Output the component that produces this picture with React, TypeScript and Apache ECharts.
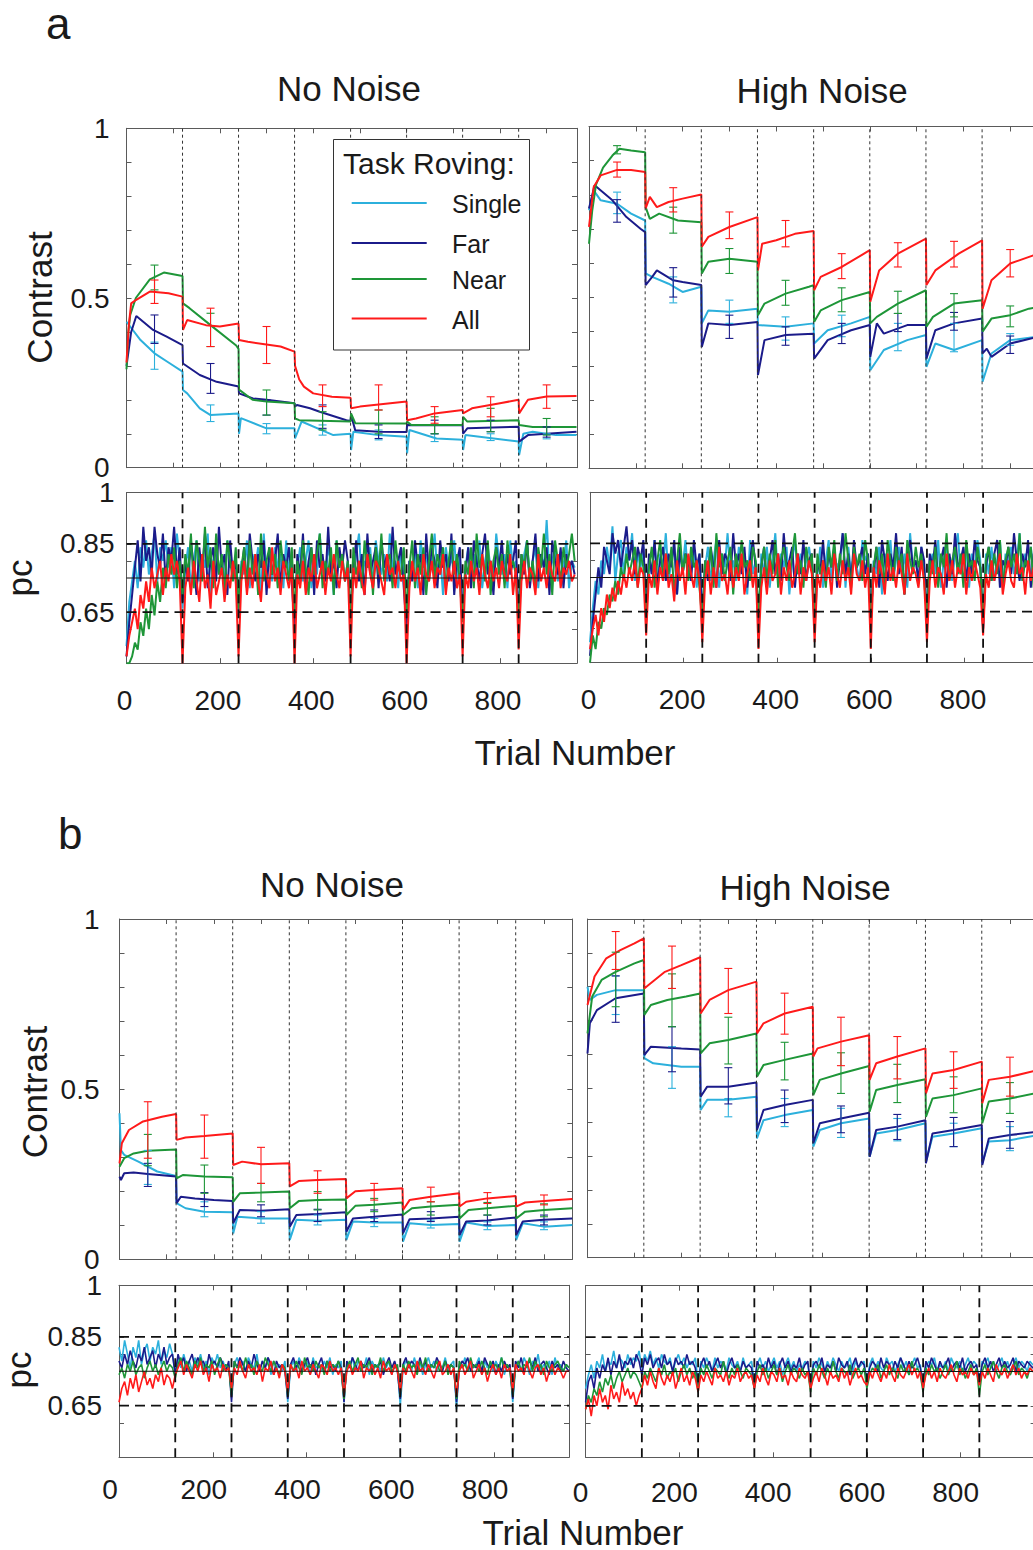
import React, { useEffect, useRef } from 'react';
import * as echarts from 'echarts';

// ---------------- categories, ticks ----------------
const SERIES_NAMES = ['Single', 'Far', 'Near', 'All'];
const BLOCK_EDGES = [120, 240, 360, 480, 600, 720, 840];
const CONTRAST_TICKS = [0, 0.1, 0.2, 0.3, 0.4, 0.5, 0.6, 0.7, 0.8, 0.9, 1];
const CONTRAST_TICK_LABELS = [0, 0.5, 1];
const PC_TICKS = [0.6, 0.65, 0.8, 0.85, 1];
const PC_TICK_LABELS = [0.65, 0.85, 1];
const PC_CRITERIA = [0.65, 0.85];
const PC_TARGET = 0.75;
const TRIAL_TICKS_CONTRAST = [100, 200, 300, 400, 500, 600, 700, 800, 900];
const TRIAL_TICKS_PC = [200, 400, 600, 800];
const TRIAL_TICK_LABELS = [0, 200, 400, 600, 800];
const PC_TRIAL_STEP = 6;

// ---------------- panel a, No Noise, contrast ----------------
const aNoNoiseSingle = [[0,0.43],[30,0.376],[60,0.337],[90,0.31],[120,0.283],[121,0.229],[130,0.219],[157,0.175],[180,0.155],[240,0.16],[241,0.10],[245,0.146],[300,0.116],[360,0.116],[361,0.086],[375,0.136],[443,0.096],[480,0.10],[481,0.052],[486,0.106],[540,0.096],[600,0.091],[601,0.042],[606,0.111],[664,0.086],[720,0.082],[721,0.052],[726,0.096],[840,0.077],[841,0.037],[850,0.1],[870,0.106],[920,0.096],[964,0.096]];
const aNoNoiseFar = [[0,0.3],[10,0.4],[21,0.447],[57,0.406],[86,0.386],[120,0.361],[121,0.307],[157,0.273],[193,0.253],[240,0.239],[241,0.219],[271,0.204],[300,0.2],[360,0.19],[361,0.18],[365,0.185],[393,0.175],[414,0.165],[471,0.14],[480,0.138],[481,0.155],[490,0.11],[540,0.106],[600,0.105],[601,0.126],[650,0.125],[720,0.125],[721,0.1],[730,0.116],[840,0.121],[841,0.077],[860,0.096],[964,0.106]];
const aNoNoiseNear = [[0,0.29],[4,0.4],[8,0.45],[20,0.5],[50,0.555],[80,0.575],[120,0.565],[121,0.484],[135,0.47],[180,0.42],[235,0.36],[240,0.35],[241,0.23],[270,0.2],[300,0.195],[360,0.19],[361,0.145],[370,0.14],[480,0.136],[481,0.16],[490,0.131],[600,0.13],[601,0.136],[610,0.126],[720,0.126],[721,0.15],[730,0.136],[840,0.14],[841,0.126],[870,0.12],[964,0.12]];
const aNoNoiseAll = [[0,0.31],[5,0.42],[10,0.484],[20,0.494],[50,0.519],[90,0.514],[120,0.504],[121,0.406],[130,0.435],[170,0.42],[200,0.416],[240,0.425],[241,0.376],[260,0.371],[330,0.357],[360,0.342],[361,0.3],[370,0.26],[380,0.239],[400,0.219],[440,0.209],[480,0.206],[481,0.175],[500,0.18],[600,0.195],[601,0.14],[620,0.145],[660,0.16],[720,0.17],[721,0.16],[740,0.175],[800,0.19],[840,0.2],[841,0.16],[860,0.2],[900,0.21],[964,0.211]];
const aNoNoiseSingleErr = [[60,0.29,0.37],[180,0.136,0.185],[300,0.10,0.13],[420,0.096,0.126],[540,0.082,0.111],[660,0.077,0.1],[780,0.08,0.1],[900,0.085,0.1]];
const aNoNoiseFarErr = [[60,0.366,0.45],[180,0.219,0.307],[300,0.155,0.2],[420,0.116,0.185],[540,0.086,0.126],[660,0.1,0.14],[780,0.106,0.14],[900,0.09,0.12]];
const aNoNoiseNearErr = [[60,0.524,0.597],[180,0.357,0.455],[300,0.155,0.229],[420,0.111,0.165],[540,0.1,0.17],[660,0.1,0.15],[780,0.106,0.175],[900,0.096,0.145]];
const aNoNoiseAllErr = [[60,0.484,0.553],[180,0.357,0.47],[300,0.307,0.416],[420,0.18,0.244],[540,0.17,0.244],[660,0.131,0.18],[780,0.15,0.209],[900,0.175,0.244]];

// ---------------- panel a, High Noise, contrast ----------------
const aHighNoiseSingle = [[0,0.755],[10,0.813],[25,0.784],[60,0.774],[90,0.745],[120,0.725],[121,0.57],[135,0.56],[170,0.54],[200,0.516],[240,0.531],[241,0.424],[255,0.462],[300,0.458],[360,0.467],[361,0.419],[420,0.414],[480,0.424],[481,0.365],[510,0.404],[560,0.424],[600,0.443],[601,0.287],[630,0.346],[680,0.375],[720,0.39],[721,0.297],[740,0.365],[780,0.346],[840,0.375],[841,0.253],[860,0.336],[900,0.375],[960,0.385]];
const aHighNoiseFar = [[0,0.76],[12,0.828],[50,0.784],[80,0.735],[110,0.701],[120,0.691],[121,0.536],[135,0.56],[145,0.579],[180,0.55],[200,0.545],[240,0.536],[241,0.355],[255,0.424],[300,0.419],[360,0.428],[361,0.273],[375,0.375],[420,0.39],[480,0.394],[481,0.321],[510,0.375],[560,0.404],[600,0.419],[601,0.326],[615,0.424],[630,0.394],[680,0.419],[720,0.419],[721,0.321],[740,0.404],[780,0.424],[840,0.438],[841,0.336],[850,0.35],[860,0.326],[900,0.365],[960,0.385]];
const aHighNoiseNear = [[0,0.657],[7,0.755],[15,0.83],[30,0.88],[50,0.915],[65,0.935],[90,0.93],[120,0.925],[121,0.764],[130,0.73],[150,0.745],[190,0.725],[240,0.72],[241,0.57],[255,0.604],[300,0.613],[360,0.604],[361,0.448],[375,0.482],[420,0.511],[470,0.531],[480,0.536],[481,0.428],[495,0.462],[540,0.492],[600,0.516],[601,0.424],[615,0.443],[660,0.482],[720,0.521],[721,0.414],[735,0.443],[780,0.482],[840,0.492],[841,0.4],[860,0.438],[900,0.448],[940,0.467],[960,0.472]];
const aHighNoiseAll = [[0,0.706],[10,0.823],[25,0.857],[60,0.873],[90,0.873],[120,0.867],[121,0.76],[130,0.794],[145,0.764],[170,0.779],[200,0.789],[240,0.801],[241,0.648],[255,0.677],[300,0.706],[360,0.735],[361,0.579],[370,0.657],[400,0.667],[440,0.686],[480,0.694],[481,0.521],[495,0.56],[540,0.589],[600,0.638],[601,0.487],[620,0.579],[660,0.628],[720,0.672],[721,0.536],[740,0.579],[790,0.628],[840,0.667],[841,0.467],[860,0.55],[900,0.599],[960,0.628]];
const aHighNoiseSingleErr = [[60,0.745,0.808],[180,0.484,0.56],[300,0.424,0.492],[420,0.375,0.443],[540,0.385,0.448],[660,0.344,0.424],[780,0.341,0.424],[900,0.36,0.394]];
const aHighNoiseFarErr = [[60,0.72,0.786],[180,0.501,0.587],[300,0.38,0.448],[420,0.36,0.414],[540,0.365,0.424],[660,0.4,0.453],[780,0.404,0.456],[900,0.336,0.387]];
const aHighNoiseNearErr = [[60,0.92,0.944],[180,0.688,0.764],[300,0.57,0.643],[420,0.477,0.55],[540,0.458,0.528],[660,0.453,0.518],[780,0.443,0.511],[900,0.414,0.475]];
const aHighNoiseAllErr = [[60,0.852,0.896],[180,0.75,0.821],[300,0.672,0.75],[420,0.648,0.725],[540,0.555,0.628],[660,0.589,0.66],[780,0.589,0.664],[900,0.56,0.64]];

// ---------------- panel b, No Noise, contrast ----------------
const bNoNoiseSingle = [[0,0.429],[3,0.321],[10,0.307],[40,0.287],[80,0.258],[120,0.245],[121,0.165],[140,0.15],[180,0.14],[240,0.138],[241,0.076],[250,0.125],[300,0.12],[360,0.12],[361,0.057],[375,0.116],[420,0.113],[480,0.116],[481,0.057],[495,0.111],[540,0.108],[600,0.108],[601,0.052],[615,0.106],[660,0.101],[720,0.104],[721,0.052],[735,0.108],[780,0.098],[840,0.101],[841,0.057],[855,0.106],[900,0.096],[960,0.101]];
const bNoNoiseFar = [[0,0.243],[3,0.233],[10,0.253],[30,0.255],[60,0.251],[120,0.243],[121,0.165],[130,0.184],[160,0.179],[200,0.174],[240,0.171],[241,0.106],[255,0.145],[300,0.143],[360,0.147],[361,0.096],[375,0.13],[420,0.133],[480,0.138],[481,0.081],[495,0.12],[540,0.125],[600,0.132],[601,0.076],[615,0.118],[660,0.12],[720,0.125],[721,0.071],[735,0.111],[780,0.114],[840,0.123],[841,0.071],[855,0.111],[900,0.116],[960,0.12]];
const bNoNoiseNear = [[0,0.272],[10,0.297],[30,0.311],[60,0.319],[120,0.323],[121,0.238],[135,0.248],[180,0.243],[240,0.241],[241,0.169],[255,0.194],[300,0.196],[360,0.199],[361,0.15],[380,0.171],[420,0.174],[480,0.176],[481,0.13],[500,0.157],[540,0.16],[600,0.167],[601,0.13],[620,0.15],[660,0.155],[720,0.16],[721,0.12],[740,0.145],[780,0.15],[840,0.157],[841,0.12],[860,0.14],[900,0.145],[960,0.15]];
const bNoNoiseAll = [[0,0.282],[5,0.341],[20,0.38],[50,0.405],[90,0.419],[120,0.427],[121,0.351],[140,0.358],[180,0.362],[240,0.37],[241,0.277],[260,0.287],[300,0.279],[360,0.282],[361,0.214],[380,0.23],[420,0.233],[480,0.236],[481,0.179],[500,0.2],[540,0.204],[600,0.209],[601,0.145],[615,0.174],[660,0.184],[720,0.194],[721,0.155],[735,0.169],[780,0.179],[840,0.186],[841,0.155],[860,0.167],[900,0.171],[960,0.177]];
const bNoNoiseSingleErr = [[60,0.22,0.32],[180,0.125,0.169],[300,0.106,0.14],[420,0.101,0.13],[540,0.096,0.12],[660,0.092,0.115],[780,0.087,0.11],[900,0.087,0.11]];
const bNoNoiseFarErr = [[60,0.214,0.282],[180,0.155,0.196],[300,0.125,0.16],[420,0.111,0.147],[540,0.111,0.145],[660,0.111,0.14],[780,0.101,0.13],[900,0.101,0.13]];
const bNoNoiseNearErr = [[60,0.275,0.367],[180,0.194,0.277],[300,0.169,0.223],[420,0.145,0.199],[540,0.14,0.179],[660,0.13,0.169],[780,0.13,0.167],[900,0.125,0.163]];
const bNoNoiseAllErr = [[60,0.297,0.463],[180,0.297,0.424],[300,0.223,0.329],[420,0.194,0.26],[540,0.174,0.223],[660,0.169,0.212],[780,0.164,0.196],[900,0.16,0.189]];

// ---------------- panel b, High Noise, contrast ----------------
const bHighNoiseSingle = [[0,0.8],[5,0.761],[20,0.776],[60,0.79],[120,0.79],[121,0.589],[140,0.574],[200,0.564],[240,0.564],[241,0.436],[255,0.466],[300,0.466],[360,0.475],[361,0.352],[375,0.406],[420,0.421],[480,0.436],[481,0.328],[495,0.377],[540,0.397],[600,0.411],[601,0.298],[615,0.367],[660,0.377],[720,0.397],[721,0.283],[735,0.357],[780,0.367],[840,0.382],[841,0.279],[855,0.343],[900,0.347],[960,0.362]];
const bHighNoiseFar = [[0,0.603],[5,0.692],[20,0.731],[60,0.766],[120,0.78],[121,0.598],[135,0.623],[200,0.618],[240,0.615],[241,0.475],[255,0.505],[300,0.505],[360,0.517],[361,0.377],[375,0.436],[420,0.451],[480,0.466],[481,0.338],[495,0.397],[540,0.411],[600,0.428],[601,0.298],[615,0.377],[660,0.387],[720,0.406],[721,0.279],[735,0.367],[780,0.377],[840,0.392],[841,0.274],[855,0.352],[900,0.362],[960,0.372]];
const bHighNoiseNear = [[0,0.662],[10,0.771],[30,0.82],[60,0.844],[100,0.869],[120,0.879],[121,0.717],[135,0.746],[170,0.761],[210,0.771],[240,0.78],[241,0.603],[260,0.633],[300,0.643],[360,0.662],[361,0.534],[375,0.569],[420,0.584],[480,0.603],[481,0.48],[495,0.525],[540,0.544],[600,0.566],[601,0.431],[615,0.495],[660,0.51],[720,0.527],[721,0.416],[735,0.47],[780,0.48],[840,0.5],[841,0.397],[855,0.461],[900,0.47],[960,0.487]];
const bHighNoiseAll = [[0,0.746],[15,0.83],[40,0.884],[70,0.908],[100,0.928],[120,0.943],[121,0.795],[130,0.805],[165,0.844],[200,0.864],[240,0.887],[241,0.721],[260,0.761],[300,0.79],[360,0.815],[361,0.662],[375,0.692],[420,0.721],[480,0.741],[481,0.594],[490,0.618],[540,0.638],[600,0.657],[601,0.525],[615,0.574],[660,0.594],[720,0.618],[721,0.485],[735,0.544],[780,0.554],[840,0.579],[841,0.456],[855,0.525],[900,0.534],[960,0.554]];
const bHighNoiseSingleErr = [[60,0.718,0.832],[180,0.5,0.623],[300,0.416,0.47],[420,0.387,0.47],[540,0.355,0.441],[660,0.345,0.411],[780,0.328,0.397],[900,0.316,0.387]];
const bHighNoiseFarErr = [[60,0.695,0.832],[180,0.549,0.682],[300,0.454,0.561],[420,0.399,0.495],[540,0.369,0.448],[660,0.349,0.423],[780,0.328,0.414],[900,0.323,0.402]];
const bHighNoiseNearErr = [[60,0.741,0.902],[180,0.682,0.838],[300,0.572,0.71],[420,0.525,0.636],[540,0.485,0.605],[660,0.458,0.571],[780,0.428,0.534],[900,0.426,0.517]];
const bHighNoiseAllErr = [[60,0.851,0.963],[180,0.795,0.92],[300,0.721,0.854],[420,0.66,0.781],[540,0.567,0.71],[660,0.528,0.653],[780,0.5,0.608],[900,0.477,0.592]];

// ---------------- pc traces (percent, one value every PC_TRIAL_STEP trials) ----------------
const aNoNoisePcSingle = [
55,68,74,80,72,84,78,86,76,82,88,74,84,80,86,78,84,72,88,80,
66,78,84,72,80,86,74,82,78,88,70,80,84,76,82,72,86,78,80,74,
64,80,76,86,72,82,78,84,70,88,76,80,74,84,78,82,72,86,76,80,
62,78,84,74,80,86,72,82,76,88,78,74,84,80,70,86,78,82,74,80,
64,76,82,88,74,80,78,84,72,86,80,76,82,74,88,78,80,72,84,78,
62,80,76,84,72,86,78,82,74,80,88,76,82,70,84,78,80,86,74,82,
64,78,84,74,82,76,86,72,80,84,78,74,88,80,76,82,72,86,78,80,
62,76,82,86,74,80,84,72,82,78,92,76,80,84,74,82,78,86,72,80,78];
const aNoNoisePcFar = [
52,62,70,78,86,74,90,80,84,76,90,82,78,88,74,84,80,90,76,84,
68,80,74,86,78,70,84,76,88,72,80,84,74,90,78,82,70,86,76,80,
66,76,84,72,88,80,74,82,78,86,70,84,76,80,88,72,82,78,84,74,
60,82,76,88,72,80,84,70,86,78,82,74,90,76,80,72,84,78,86,80,
62,78,86,74,82,70,88,76,80,84,72,86,78,82,74,90,76,80,84,72,
60,80,74,86,78,82,70,88,76,84,80,72,86,78,82,74,88,70,80,84,
64,76,84,72,86,80,74,82,88,76,80,70,84,78,86,74,82,76,80,86,
62,82,76,86,72,80,88,74,82,78,84,70,86,80,76,84,72,82,78,80,76];
const aNoNoisePcNear = [
50,50,52,56,54,62,58,66,60,70,64,74,68,78,72,82,76,84,72,80,
70,82,76,88,72,86,80,74,90,78,84,72,88,76,82,70,86,80,74,84,
66,78,84,72,86,76,82,70,88,74,80,84,76,82,72,86,78,80,74,84,
64,80,74,86,78,70,84,76,82,88,72,80,76,84,70,86,78,82,74,80,
62,84,76,80,72,86,78,82,70,84,76,88,74,80,82,72,86,78,76,84,
64,78,86,72,82,76,84,70,80,88,74,82,78,84,72,80,86,76,82,74,
62,80,76,84,72,88,78,82,74,86,70,80,84,76,82,72,86,78,80,76,
60,82,78,86,74,80,72,84,78,88,76,82,70,86,80,74,84,78,82,88,80];
const aNoNoisePcAll = [
52,58,62,66,60,70,66,74,68,78,72,76,80,70,78,74,82,76,80,74,
50,72,78,70,80,74,68,82,72,76,66,80,70,74,78,68,76,72,80,74,
52,74,80,70,78,72,82,74,68,80,76,72,84,74,78,70,80,76,72,78,
50,76,72,80,70,78,74,82,72,76,80,70,78,74,82,76,72,80,74,78,
52,78,72,80,74,70,82,76,72,80,78,74,70,82,76,78,72,80,74,76,
50,72,80,74,78,70,82,76,74,80,72,78,76,82,70,78,74,80,72,76,
52,76,72,80,74,78,70,82,76,72,80,74,78,72,80,76,74,82,70,78,
54,74,80,72,78,76,70,82,74,78,72,80,76,74,82,72,78,76,80,74,76];

const aHighNoisePcSingle = [
56,66,74,70,80,76,84,78,90,74,82,86,76,84,80,88,74,82,78,84,
62,80,76,86,72,82,78,88,74,80,84,70,82,78,86,74,80,84,72,82,
64,78,84,74,80,86,72,82,78,88,76,80,74,84,78,82,70,86,76,80,
62,82,76,84,72,80,88,74,82,78,84,70,80,86,76,82,74,80,84,78,
60,76,84,72,80,86,74,82,78,80,88,72,84,76,82,78,74,86,80,82,
62,80,76,84,70,82,78,86,74,80,84,76,82,72,88,78,80,74,84,78,
64,78,82,76,86,72,80,84,78,74,82,88,76,80,84,72,82,78,86,80,
60,82,76,84,74,80,86,72,82,78,84,76,80,88,74,82,78,84,76,80,80];
const aHighNoisePcFar = [
52,62,70,78,72,84,80,76,88,82,86,78,84,90,80,86,76,84,80,86,
64,82,76,86,72,80,84,74,82,78,86,70,84,76,82,80,74,86,78,82,
62,80,74,84,78,72,86,76,82,80,74,88,78,82,76,84,72,80,86,78,
60,78,84,72,80,86,76,82,74,88,78,80,84,72,82,76,86,74,80,82,
62,80,76,86,74,82,78,84,72,80,88,76,82,74,86,78,80,84,76,82,
64,76,84,72,86,80,74,82,78,88,76,84,70,82,86,78,80,74,84,80,
62,82,78,86,74,80,84,72,82,76,88,78,80,84,74,82,76,86,80,78,
60,78,84,74,82,86,72,80,78,84,76,88,80,74,82,78,86,72,82,80,78];
const aHighNoisePcNear = [
50,58,54,62,60,66,64,70,68,74,70,78,74,82,76,80,84,72,82,78,
64,78,84,72,80,86,74,82,76,84,70,80,88,76,82,74,84,78,80,72,
62,80,76,84,72,88,78,82,74,80,84,70,82,76,86,78,80,74,84,80,
64,78,84,74,82,76,86,72,80,84,78,74,82,88,76,80,72,84,78,82,
60,82,76,80,72,84,78,86,74,82,76,88,80,72,84,78,82,74,86,80,
62,78,84,76,82,72,86,80,74,84,78,82,70,86,80,76,84,78,82,74,
64,80,76,84,72,82,78,88,74,80,84,76,82,72,86,78,80,74,84,78,
62,80,84,74,82,76,86,72,80,84,78,82,76,88,74,80,78,84,72,80,78];
const aHighNoisePcAll = [
54,60,64,58,66,62,70,66,72,68,74,70,76,72,78,74,80,72,78,76,
58,76,72,80,70,78,74,82,72,76,68,80,74,78,70,82,76,72,80,74,
56,74,80,70,78,72,84,74,76,70,80,72,78,74,82,70,76,80,72,78,
54,72,78,70,80,74,76,82,70,78,74,80,72,76,82,70,78,74,80,76,
56,76,72,80,74,78,70,82,76,72,80,74,78,70,82,76,74,80,72,78,
54,78,72,80,76,70,82,74,78,72,80,76,70,82,74,78,76,72,80,74,
56,74,80,72,78,76,70,82,74,80,72,78,76,82,70,78,74,80,76,72,
58,76,72,80,74,78,82,70,76,80,74,72,82,76,78,70,80,74,78,76,76];

const bNoNoisePcSingle = [
82,78,84,80,76,82,79,84,77,81,83,78,82,80,84,77,81,79,83,80,
74,79,76,80,77,78,75,79,77,80,76,78,74,79,77,80,76,78,75,77,
68,77,79,76,78,75,79,77,76,80,75,78,76,79,74,78,76,77,75,78,
66,76,78,75,79,77,76,78,74,79,76,77,75,78,76,79,74,77,76,78,
66,77,76,79,75,78,77,76,79,74,78,76,77,75,79,76,78,74,77,76,
65,76,78,77,75,79,76,78,74,77,79,76,78,75,77,76,79,75,77,78,
64,77,76,79,75,78,76,77,79,74,78,76,77,75,78,76,79,74,77,76,
66,76,78,75,79,77,74,78,76,80,75,77,76,78,74,79,76,77,75,77,76];
const bNoNoisePcFar = [
78,76,80,77,81,78,76,80,78,82,77,79,81,76,80,78,82,77,79,80,
74,80,77,79,75,78,80,76,79,77,78,75,80,77,78,76,79,77,75,78,
66,78,76,79,77,75,78,76,80,77,75,78,76,79,77,74,78,76,77,75,
67,77,79,76,78,75,77,79,76,78,74,77,79,75,78,76,77,75,78,76,
66,78,76,79,77,75,78,76,77,79,75,77,76,78,74,77,79,76,78,75,
67,77,79,76,78,77,75,79,76,78,75,77,76,79,77,75,78,76,77,76,
66,76,78,77,79,75,77,76,78,75,79,77,76,78,74,77,75,78,76,77,
67,78,76,79,75,77,78,76,79,75,77,78,76,74,78,76,77,75,78,76,75];
const bNoNoisePcNear = [
74,76,73,77,75,78,74,76,77,73,76,78,75,77,74,76,78,75,77,76,
73,77,79,75,78,76,74,78,76,79,75,77,76,78,74,77,79,75,77,76,
68,78,76,77,75,79,76,77,74,78,76,75,79,77,75,78,76,74,77,76,
68,77,75,78,76,74,79,76,77,75,78,76,77,74,78,75,77,76,78,75,
67,76,78,75,77,79,75,77,76,78,74,77,76,79,75,77,78,75,76,77,
68,77,75,78,76,77,74,78,76,79,75,77,76,78,75,76,78,74,77,76,
67,78,76,77,75,79,76,77,75,78,76,74,78,76,77,75,79,76,77,75,
68,76,78,75,77,76,79,75,78,76,77,74,78,76,75,77,78,76,75,77,76];
const bNoNoisePcAll = [
66,70,72,68,73,70,74,69,72,75,71,73,70,74,72,76,71,74,73,70,
74,76,78,74,77,75,73,77,75,78,74,76,72,77,75,76,73,77,75,76,
70,76,74,78,75,73,77,75,76,74,77,72,76,75,78,74,76,73,77,75,
69,77,75,76,73,78,75,76,74,77,75,73,77,76,74,78,75,76,74,76,
68,75,77,74,76,75,78,73,76,75,77,74,76,73,78,75,76,74,77,75,
69,76,74,77,75,73,78,75,76,74,77,75,73,76,78,74,75,77,74,76,
68,75,77,74,76,78,73,75,77,74,76,72,75,77,74,76,73,77,75,76,
69,77,75,76,74,78,75,73,76,77,74,76,72,75,77,74,76,75,73,75,75];

const bHighNoisePcSingle = [
70,74,77,73,78,76,80,75,78,77,81,76,79,78,76,80,77,79,78,81,
76,80,78,81,77,79,76,80,78,77,79,75,78,80,77,79,76,78,77,79,
72,78,76,79,77,75,79,76,78,77,75,79,77,76,78,75,79,76,77,78,
72,77,79,76,78,75,77,79,76,78,74,77,79,76,78,75,77,76,78,77,
71,78,76,79,77,75,78,76,79,77,75,78,76,77,79,75,78,76,77,78,
72,77,79,76,78,76,75,79,77,78,75,77,79,76,78,74,77,79,76,77,
71,76,78,77,79,75,77,76,78,75,79,77,76,78,75,77,79,76,78,77,
72,78,77,79,76,78,75,77,79,76,78,75,77,79,76,78,77,75,78,77,77];
const bHighNoisePcFar = [
66,72,74,70,76,73,77,75,79,74,78,76,80,75,78,77,79,76,80,78,
74,79,77,80,76,78,79,76,80,77,78,75,79,77,78,76,80,77,78,76,
71,77,79,76,78,75,77,79,76,78,74,77,79,76,77,75,78,76,77,76,
70,78,76,77,75,79,76,78,74,77,79,76,78,75,77,76,79,75,77,78,
71,77,78,76,79,75,77,76,78,75,79,77,76,78,74,77,79,76,78,77,
72,76,78,77,75,79,76,78,77,75,78,76,79,77,75,78,76,77,79,76,
71,78,76,79,77,75,78,76,77,79,75,77,78,76,79,75,77,78,76,77,
72,77,79,76,78,75,77,79,76,78,76,77,79,75,78,77,76,78,77,76,77];
const bHighNoisePcNear = [
64,68,66,70,68,72,69,73,71,74,70,73,75,72,74,76,73,75,74,72,
70,75,73,76,74,72,76,74,77,73,75,74,76,72,75,77,74,76,73,75,
69,76,74,77,75,73,76,75,74,78,75,73,76,74,77,75,73,76,75,74,
70,75,77,74,76,73,75,77,74,76,72,75,77,74,76,75,73,76,74,75,
69,76,74,77,75,73,76,74,78,75,73,76,75,74,77,73,75,76,74,76,
70,74,76,75,77,73,75,77,74,76,75,73,77,75,76,74,78,75,76,74,
69,76,74,77,75,76,73,75,77,74,76,75,78,74,76,73,75,77,74,76,
68,75,77,74,76,78,75,73,76,77,75,74,76,78,74,76,75,73,76,75,75];
const bHighNoisePcAll = [
64,67,62,68,65,70,66,68,64,71,67,69,66,72,68,70,67,69,65,68,
70,74,71,75,72,70,76,73,71,74,72,75,70,73,76,72,74,71,75,73,
69,74,72,75,73,71,76,73,74,72,75,71,74,73,76,72,74,75,73,74,
70,74,72,76,73,71,75,74,72,76,73,74,71,75,73,72,76,74,73,75,
70,73,75,72,76,74,71,75,73,74,72,76,73,75,71,74,76,73,74,72,
71,75,73,76,74,72,75,73,77,74,72,76,74,73,75,77,74,76,73,75,
70,74,76,73,75,72,76,74,73,75,77,74,72,76,74,75,73,76,74,75,
71,75,73,76,74,72,77,75,74,76,73,75,77,74,76,73,75,74,76,75,75];

// ---------------- styles / layout ----------------
const COLORS = ['#2cb0dc', '#1b1b8a', '#1e9638', '#ff1a1a'];
const FONT = '"Liberation Sans", Arial, Helvetica, sans-serif';
const TXT = '#1a1a1a';
const AX = '#5a5a5a';

const LAYOUT: Record<string, any> = {
  aNNc: { left: 126.5, top: 128.3, width: 450.5, height: 339.4 },
  aHNc: { left: 589, top: 126.5, width: 451.6, height: 341.8 },
  aNNp: { left: 126.5, top: 492.7, width: 450.5, height: 170.5 },
  aHNp: { left: 590, top: 492.3, width: 451.6, height: 170.4 },
  bNNc: { left: 119.5, top: 919, width: 452.8, height: 340.3 },
  bHNc: { left: 587.5, top: 919, width: 450.6, height: 338.7 },
  bNNp: { left: 119, top: 1285.3, width: 450, height: 172 },
  bHNp: { left: 585.6, top: 1285.7, width: 450, height: 171.6 },
};

const PANELS: any[] = [
  { id: 'aNNc', kind: 'contrast', xMax: 965, yLabels: true, yLabelMargin: 17,
    curves: [aNoNoiseSingle, aNoNoiseFar, aNoNoiseNear, aNoNoiseAll],
    errs: [aNoNoiseSingleErr, aNoNoiseFarErr, aNoNoiseNearErr, aNoNoiseAllErr] },
  { id: 'aHNc', kind: 'contrast', xMax: 965, yLabels: false,
    curves: [aHighNoiseSingle, aHighNoiseFar, aHighNoiseNear, aHighNoiseAll],
    errs: [aHighNoiseSingleErr, aHighNoiseFarErr, aHighNoiseNearErr, aHighNoiseAllErr] },
  { id: 'aNNp', kind: 'pc', xMax: 965, yLabels: true, yLabelMargin: 12, xLabelMargin: 23, xLabelPad: 4, traceWidth: 2,
    traces: [aNoNoisePcSingle, aNoNoisePcFar, aNoNoisePcNear, aNoNoisePcAll] },
  { id: 'aHNp', kind: 'pc', xMax: 965, yLabels: false, xLabelMargin: 23, xLabelPad: 3, traceWidth: 2,
    traces: [aHighNoisePcSingle, aHighNoisePcFar, aHighNoisePcNear, aHighNoisePcAll] },
  { id: 'bNNc', kind: 'contrast', xMax: 960, yLabels: true, yLabelMargin: 20,
    curves: [bNoNoiseSingle, bNoNoiseFar, bNoNoiseNear, bNoNoiseAll],
    errs: [bNoNoiseSingleErr, bNoNoiseFarErr, bNoNoiseNearErr, bNoNoiseAllErr] },
  { id: 'bHNc', kind: 'contrast', xMax: 960, yLabels: false,
    curves: [bHighNoiseSingle, bHighNoiseFar, bHighNoiseNear, bHighNoiseAll],
    errs: [bHighNoiseSingleErr, bHighNoiseFarErr, bHighNoiseNearErr, bHighNoiseAllErr] },
  { id: 'bNNp', kind: 'pc', xMax: 960, yLabels: true, yLabelMargin: 17, xLabelMargin: 18, xLabelPad: 18, traceWidth: 1.6,
    traces: [bNoNoisePcSingle, bNoNoisePcFar, bNoNoisePcNear, bNoNoisePcAll] },
  { id: 'bHNp', kind: 'pc', xMax: 960, yLabels: false, xLabelMargin: 21, xLabelPad: 10, traceWidth: 1.6,
    traces: [bHighNoisePcSingle, bHighNoisePcFar, bHighNoisePcNear, bHighNoisePcAll] },
];

function errRender(color: string) {
  return (params: any, api: any) => {
    const x = api.value(0), lo = api.value(1), hi = api.value(2);
    const a = api.coord([x, lo]);
    const b = api.coord([x, hi]);
    const w = 4;
    const st = { stroke: color, lineWidth: 1.1 };
    return {
      type: 'group',
      children: [
        { type: 'line', shape: { x1: a[0], y1: a[1], x2: b[0], y2: b[1] }, style: st },
        { type: 'line', shape: { x1: a[0] - w, y1: a[1], x2: a[0] + w, y2: a[1] }, style: st },
        { type: 'line', shape: { x1: b[0] - w, y1: b[1], x2: b[0] + w, y2: b[1] }, style: st },
      ],
    };
  };
}

function vLineRender(style: any) {
  return (params: any, api: any) => {
    const a = api.coord([api.value(0), api.value(1)]);
    const b = api.coord([api.value(0), api.value(2)]);
    return { type: 'line', shape: { x1: a[0], y1: a[1], x2: b[0], y2: b[1] }, style };
  };
}

function hLineRender(style: any) {
  return (params: any, api: any) => {
    const a = api.coord([api.value(0), api.value(1)]);
    const b = api.coord([api.value(2), api.value(1)]);
    return { type: 'line', shape: { x1: a[0], y1: a[1], x2: b[0], y2: b[1] }, style };
  };
}

function txt(str: string, x: number, y: number, size: number, opts: any = {}) {
  return {
    type: 'text', x, y, rotation: opts.rot || 0, silent: true, z: 100,
    style: {
      text: str, fill: TXT, fontSize: size, fontFamily: FONT,
      align: opts.align || 'center', verticalAlign: 'middle',
    },
  };
}

function buildOption() {
  const grid: any[] = [];
  const xAxis: any[] = [];
  const yAxis: any[] = [];
  const series: any[] = [];

  PANELS.forEach((p, g) => {
    grid.push({ ...LAYOUT[p.id], show: false, containLabel: false, outerBoundsMode: 'none' });
    const isPc = p.kind === 'pc';
    const yMin = isPc ? 0.5 : 0;
    const xTicks = isPc ? TRIAL_TICKS_PC : TRIAL_TICKS_CONTRAST;
    const yTicks = isPc ? PC_TICKS : CONTRAST_TICKS;
    const yLabs = isPc ? PC_TICK_LABELS : CONTRAST_TICK_LABELS;
    const axLine = { show: true, onZero: false, lineStyle: { color: AX, width: 1 } };
    const tick = (vals: number[]) => ({ show: true, inside: true, length: 5, customValues: vals, lineStyle: { color: AX, width: 1 } });
    const labelBase = { fontSize: 28, fontFamily: FONT, color: TXT };

    xAxis.push({
      type: 'value', gridIndex: g, position: 'bottom', min: 0, max: p.xMax,
      axisLine: axLine, axisTick: tick(xTicks), splitLine: { show: false },
      axisLabel: isPc
        ? { show: true, customValues: TRIAL_TICK_LABELS, margin: p.xLabelMargin, padding: [0, p.xLabelPad, 0, 0], ...labelBase }
        : { show: false },
    });
    xAxis.push({
      type: 'value', gridIndex: g, position: 'top', min: 0, max: p.xMax,
      axisLine: axLine, axisTick: tick(xTicks), axisLabel: { show: false }, splitLine: { show: false },
    });
    yAxis.push({
      type: 'value', gridIndex: g, position: 'left', min: yMin, max: 1,
      axisLine: axLine, axisTick: tick(yTicks), splitLine: { show: false },
      axisLabel: p.yLabels
        ? { show: true, customValues: yLabs, margin: p.yLabelMargin, ...labelBase }
        : { show: false },
    });
    yAxis.push({
      type: 'value', gridIndex: g, position: 'right', min: yMin, max: 1,
      axisLine: axLine, axisTick: tick(yTicks), axisLabel: { show: false }, splitLine: { show: false },
    });

    const xi = 2 * g, yi = 2 * g;

    if (!isPc) {
      p.curves.forEach((data: number[][], k: number) => {
        series.push({
          type: 'line', name: SERIES_NAMES[k], xAxisIndex: xi, yAxisIndex: yi, data,
          symbol: 'none', showSymbol: false, silent: true, z: 2,
          lineStyle: { color: COLORS[k], width: 2 }, itemStyle: { color: COLORS[k] },
        });
      });
      p.errs.forEach((data: number[][], k: number) => {
        series.push({
          type: 'custom', xAxisIndex: xi, yAxisIndex: yi, data, silent: true, z: 3,
          encode: { x: 0, y: [1, 2] }, renderItem: errRender(COLORS[k]),
        });
      });
      series.push({
        type: 'custom', xAxisIndex: xi, yAxisIndex: yi, silent: true, z: 4,
        data: BLOCK_EDGES.map((v) => [v, yMin, 1]), encode: { x: 0, y: [1, 2] },
        renderItem: vLineRender({ stroke: '#333', lineWidth: 1, lineDash: [3, 3] }),
      });
    } else {
      p.traces.forEach((vals: number[], k: number) => {
        series.push({
          type: 'line', name: SERIES_NAMES[k], xAxisIndex: xi, yAxisIndex: yi,
          data: vals.map((v, i) => [i * PC_TRIAL_STEP, v / 100]),
          symbol: 'none', showSymbol: false, silent: true, z: 2,
          lineStyle: { color: COLORS[k], width: p.traceWidth }, itemStyle: { color: COLORS[k] },
        });
      });
      series.push({
        type: 'custom', xAxisIndex: xi, yAxisIndex: yi, silent: true, z: 4,
        data: BLOCK_EDGES.map((v) => [v, yMin, 1]), encode: { x: 0, y: [1, 2] },
        renderItem: vLineRender({ stroke: '#111', lineWidth: 1.8, lineDash: [9, 6] }),
      });
      series.push({
        type: 'custom', xAxisIndex: xi, yAxisIndex: yi, silent: true, z: 4,
        data: PC_CRITERIA.map((v) => [0, v, p.xMax]), encode: { x: [0, 2], y: 1 },
        renderItem: hLineRender({ stroke: '#111', lineWidth: 1.8, lineDash: [10, 6] }),
      });
      series.push({
        type: 'custom', xAxisIndex: xi, yAxisIndex: yi, silent: true, z: 4,
        data: [[0, PC_TARGET, p.xMax]], encode: { x: [0, 2], y: 1 },
        renderItem: hLineRender({ stroke: '#111', lineWidth: 1.1 }),
      });
    }
  });

  const legendX = 333.5, legendY = 139.5;
  const legendRows = [203, 243, 279, 318.5];
  const graphic: any[] = [
    txt('a', 46, 23, 44, { align: 'left' }),
    txt('b', 58, 833, 44, { align: 'left' }),
    txt('No Noise', 349, 88, 35),
    txt('High Noise', 822, 90.5, 35),
    txt('No Noise', 332, 884, 35),
    txt('High Noise', 805, 887, 35),
    txt('Contrast', 39.5, 297.5, 35, { rot: Math.PI / 2 }),
    txt('pc', 19, 578, 35, { rot: Math.PI / 2 }),
    txt('Trial Number', 575, 752, 35),
    txt('Contrast', 34, 1092, 35, { rot: Math.PI / 2 }),
    txt('pc', 18.5, 1370, 35, { rot: Math.PI / 2 }),
    txt('Trial Number', 583, 1532, 35),
    {
      type: 'rect', z: 50, silent: true,
      shape: { x: legendX, y: legendY, width: 196, height: 210.5 },
      style: { fill: '#ffffff', stroke: '#333', lineWidth: 1 },
    },
    txt('Task Roving:', 343, 163, 30, { align: 'left' }),
  ];
  SERIES_NAMES.forEach((name, k) => {
    graphic.push({
      type: 'line', z: 101, silent: true,
      shape: { x1: 351.7, y1: legendRows[k], x2: 426.7, y2: legendRows[k] },
      style: { stroke: COLORS[k], lineWidth: 2 },
    });
    graphic.push(txt(name, 452, legendRows[k] + 1, 25, { align: 'left' }));
  });

  return {
    animation: false,
    backgroundColor: '#ffffff',
    grid, xAxis, yAxis, series, graphic,
  };
}

export default function App() {
  const ref = useRef<HTMLDivElement>(null);
  useEffect(() => {
    if (!ref.current) return;
    const chart = echarts.init(ref.current, null, { renderer: 'svg' });
    chart.setOption(buildOption() as any);
    return () => chart.dispose();
  }, []);
  return (
    <div
      ref={ref}
      style={{ position: 'absolute', left: 0, top: 0, width: 1033, height: 1550, background: '#fff' }}
    />
  );
}
